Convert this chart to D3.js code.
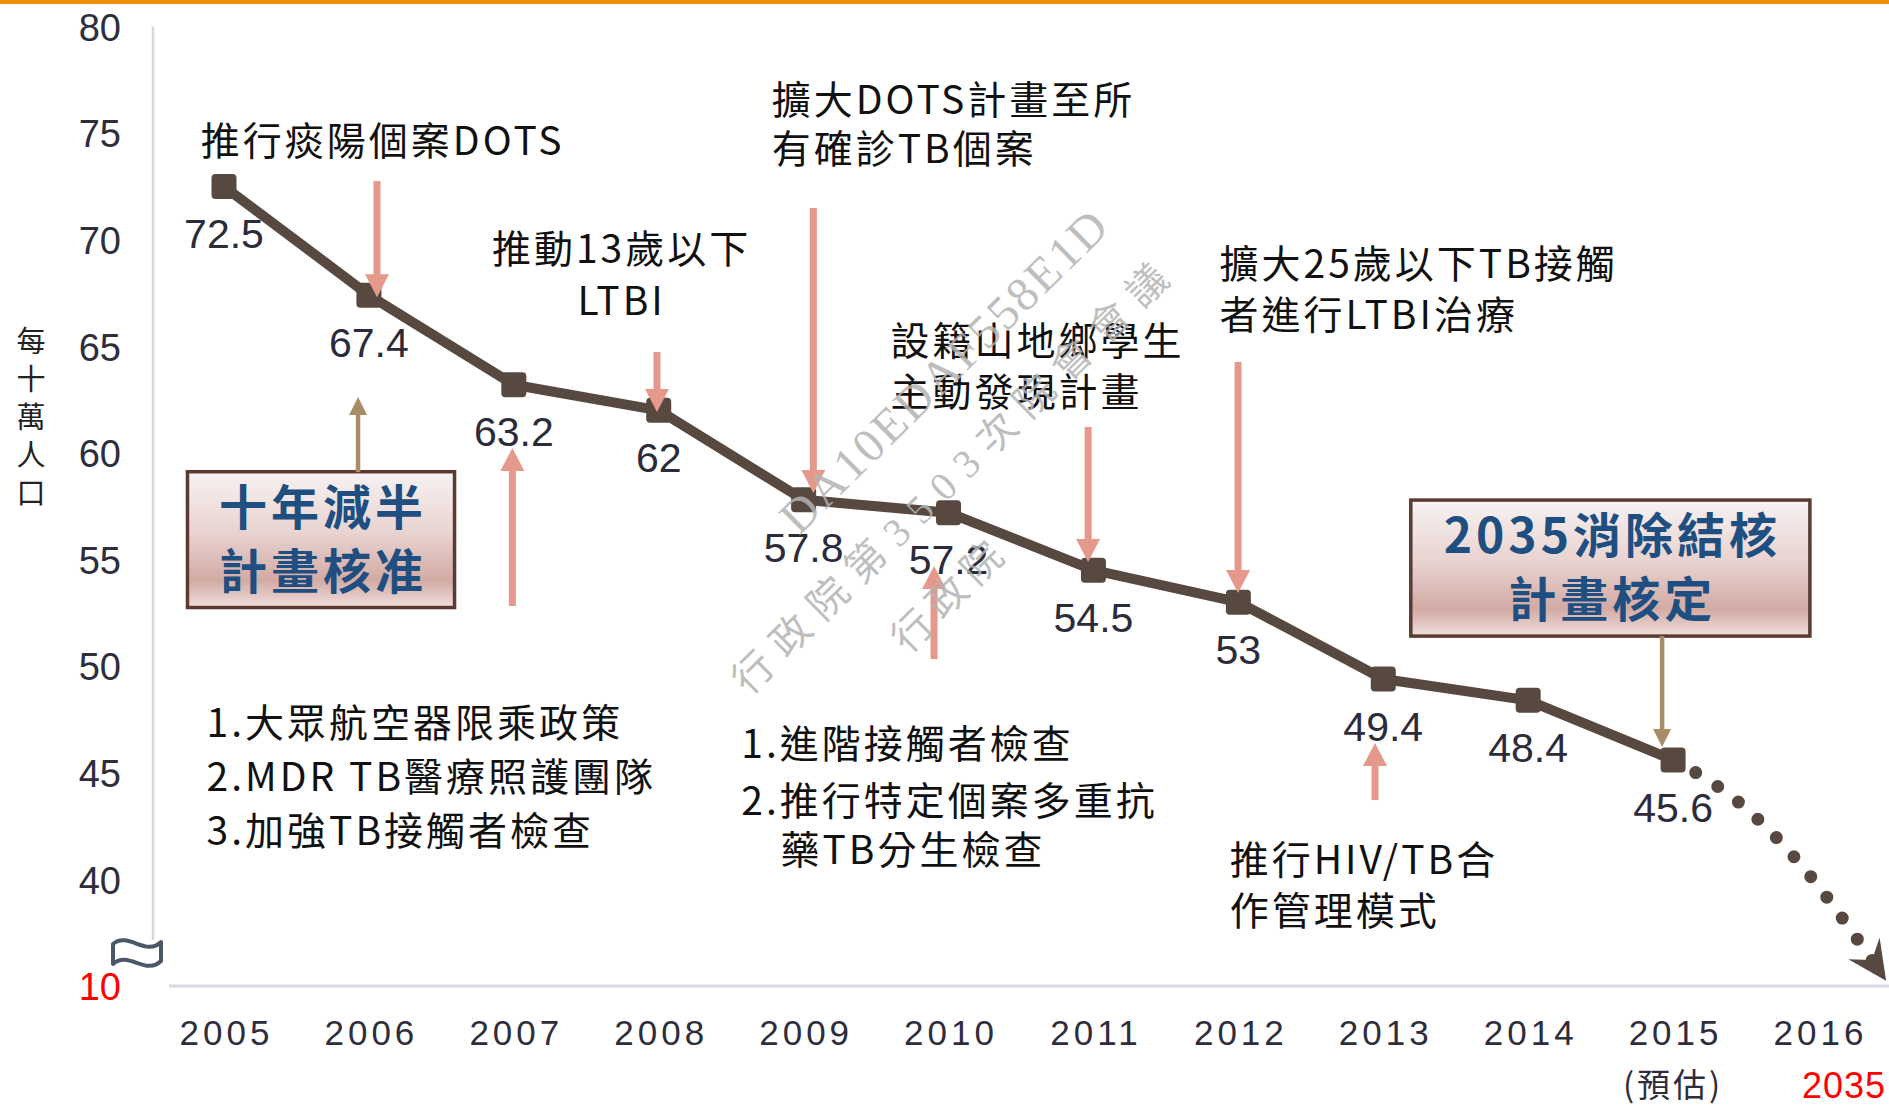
<!DOCTYPE html>
<html>
<head>
<meta charset="utf-8">
<script src="https://cdn.jsdelivr.net/npm/d3@7"></script>
<style>
  body { margin: 0; background: #fff; }
  svg { display: block; }
  text { font-family: "Liberation Sans", Arial, sans-serif; }
  .cjk { font-family: "Noto Sans CJK TC", "Noto Sans CJK SC", sans-serif; }
</style>
</head>
<body>
<div id="chart"></div>
<script>
// ---- data ----
var years = [2005, 2006, 2007, 2008, 2009, 2010, 2011, 2012, 2013, 2014, 2015];
var rates = [72.5, 67.4, 63.2, 62, 57.8, 57.2, 54.5, 53, 49.4, 48.4, 45.6];
var xTickYears = [2005, 2006, 2007, 2008, 2009, 2010, 2011, 2012, 2013, 2014, 2015, 2016];
var yTicks = [40, 45, 50, 55, 60, 65, 70, 75, 80];
var breakTick = 35;          // axis break, drawn as "10"
var breakLabel = "10";
var projYears = [2015, 2015.43, 2015.94, 2016.47];   // dotted projection toward 2035
var projRates = [45.6, 43.74, 40.21, 35.25];
var subLabelYears = [2015, 2016];
var subLabels = ["(預估)", "2035"];
var yTitle = "每十萬人口";

var width = 1889, height = 1107;

var x = d3.scaleLinear().domain([2005, 2016]).range([224, 1818]);
var y = d3.scaleLinear().domain([breakTick, 80]).range([986, 26.5]);

var svg = d3.select("#chart").append("svg")
    .attr("width", width)
    .attr("height", height);

var defs = svg.append("defs");

var grad = defs.append("linearGradient")
    .attr("id", "boxFill")
    .attr("x1", 0).attr("y1", 0).attr("x2", 0).attr("y2", 1);
grad.append("stop").attr("offset", "0%").attr("stop-color", "#f7f2f2");
grad.append("stop").attr("offset", "45%").attr("stop-color", "#e8d3d0");
grad.append("stop").attr("offset", "80%").attr("stop-color", "#d3aaa4");
grad.append("stop").attr("offset", "100%").attr("stop-color", "#efdfdc");

// top orange rule
svg.append("rect")
    .attr("x", 0).attr("y", 0)
    .attr("width", width).attr("height", 4)
    .attr("fill", "#ef8f0b");

// axis lines
svg.append("line")
    .attr("x1", 153).attr("x2", 153)
    .attr("y1", y(80)).attr("y2", y(breakTick) - 46)
    .attr("stroke", "#d8d8e3").attr("stroke-width", 2.5);

svg.append("line")
    .attr("x1", 169).attr("x2", width)
    .attr("y1", y(breakTick)).attr("y2", y(breakTick))
    .attr("stroke", "#d9d9e1").attr("stroke-width", 3);

// break symbol
var by = y(breakTick) - 43;
svg.append("path")
    .attr("d", "M113," + (by + 1) + " C128," + (by - 12) + " 146," + (by + 14) + " 161," + (by - 1) +
               " L161," + (by + 18) + " C146," + (by + 33) + " 128," + (by + 7) + " 113," + (by + 21) + " Z")
    .attr("fill", "#fff")
    .attr("stroke", "#4b5767")
    .attr("stroke-width", 4)
    .attr("stroke-linejoin", "round");

// y axis
function customYAxis(g) {
    g.call(d3.axisLeft(y)
        .tickValues(yTicks.concat([breakTick]))
        .tickSize(0)
        .tickPadding(0)
        .tickFormat(function(d) { return d === breakTick ? breakLabel : d; }));
    g.select(".domain").remove();
    g.selectAll(".tick text")
        .attr("dy", "0.36em")
        .style("font-size", "38px")
        .style("font-family", "'Liberation Sans', Arial, sans-serif")
        .attr("fill", function(d) { return d === breakTick ? "#ff0000" : "#2d2d3c"; });
}
svg.append("g")
    .attr("transform", "translate(121,0)")
    .call(customYAxis);

// x axis
function customXAxis(g) {
    g.call(d3.axisBottom(x)
        .tickValues(xTickYears)
        .tickSize(0)
        .tickPadding(0)
        .tickFormat(d3.format("d")));
    g.select(".domain").remove();
    g.selectAll(".tick text")
        .attr("y", 0)
        .attr("dy", "0.36em")
        .attr("dx", 2)
        .style("font-size", "35px")
        .style("letter-spacing", "4px")
        .style("font-family", "'Liberation Sans', Arial, sans-serif")
        .attr("fill", "#2d2d3c");
}
svg.append("g")
    .attr("transform", "translate(0,1032)")
    .call(customXAxis);

svg.selectAll(".sublabel")
    .data(subLabels)
    .enter().append("text")
    .attr("class", function(d, i) { return i === 0 ? "sublabel cjk" : "sublabel"; })
    .attr("x", function(d, i) { return x(subLabelYears[i]) + (i === 1 ? 26 : 0); })
    .attr("y", 1085)
    .attr("dy", "0.36em")
    .attr("text-anchor", "middle")
    .style("font-size", function(d, i) { return i === 0 ? "33px" : "36px"; })
    .style("letter-spacing", function(d, i) { return i === 0 ? "3px" : "1px"; })
    .attr("fill", function(d, i) { return i === 0 ? "#2d2d3c" : "#ff0000"; })
    .text(function(d) { return d; });

// y axis title, stacked characters
svg.selectAll(".ytitle")
    .data(yTitle.split(""))
    .enter().append("text")
    .attr("class", "ytitle cjk")
    .attr("x", 31)
    .attr("y", function(d, i) { return 342 + i * 38; })
    .attr("dy", "0.36em")
    .attr("text-anchor", "middle")
    .style("font-size", "29px")
    .attr("fill", "#222")
    .text(function(d) { return d; });

// ---- annotation text ----
var notes = [
    { year: 2004.84, value: 74.63, anchor: "start", gap: 0, lines: ["推行痰陽個案DOTS"] },
    { year: 2007.73, value: 69.57, anchor: "middle", gap: 52, lines: ["推動13歲以下", "LTBI"] },
    { year: 2008.78, value: 76.55, anchor: "start", gap: 49, lines: ["擴大DOTS計畫至所", "有確診TB個案"] },
    { year: 2009.6, value: 65.25, anchor: "start", gap: 51, lines: ["設籍山地鄉學生", "主動發現計畫"] },
    { year: 2011.87, value: 68.86, anchor: "start", gap: 51, lines: ["擴大25歲以下TB接觸", "者進行LTBI治療"] },
    { year: 2004.88, value: 47.33, anchor: "start", gap: 54, lines: ["1.大眾航空器限乘政策", "2.MDR TB醫療照護團隊", "3.加強TB接觸者檢查"] },
    { year: 2008.57, value: 46.35, anchor: "start", gap: 57, lines: ["1.進階接觸者檢查", "2.推行特定個案多重抗"] },
    { year: 2008.84, value: 41.38, anchor: "start", gap: 0, lines: ["藥TB分生檢查"] },
    { year: 2011.94, value: 40.91, anchor: "start", gap: 51, lines: ["推行HIV/TB合", "作管理模式"] }
];

notes.forEach(function(n) {
    var t = svg.append("text")
        .attr("class", "cjk")
        .attr("text-anchor", n.anchor)
        .style("font-size", "39px")
        .style("letter-spacing", "3px")
        .attr("fill", "#111");
    n.lines.forEach(function(line, i) {
        t.append("tspan")
            .attr("x", x(n.year) + (n.anchor === "middle" ? 2 : 0))
            .attr("y", y(n.value) + i * n.gap)
            .attr("dy", "0.36em")
            .text(line);
    });
});

// ---- boxes ----
var boxes = [
    { x0: 2004.748, x1: 2006.591, top: 59.12, bottom: 52.75, lines: ["十年減半", "計畫核准"] },
    { x0: 2013.19, x1: 2015.944, top: 57.79, bottom: 51.41, lines: ["2035消除結核", "計畫核定"] }
];

boxes.forEach(function(b) {
    var bx = x(b.x0), bw = x(b.x1) - x(b.x0);
    var byTop = y(b.top), bh = y(b.bottom) - y(b.top);
    svg.append("rect")
        .attr("x", bx).attr("y", byTop)
        .attr("width", bw).attr("height", bh)
        .attr("fill", "url(#boxFill)")
        .attr("stroke", "#5b3a32")
        .attr("stroke-width", 3.5);
    b.lines.forEach(function(line, i) {
        svg.append("text")
            .attr("class", "cjk")
            .attr("x", bx + bw / 2 + 2)
            .attr("y", byTop + bh / 2 + (i === 0 ? -32 : 32))
            .attr("dy", "0.36em")
            .attr("text-anchor", "middle")
            .style("font-size", "48px")
            .style("font-weight", 700)
            .style("letter-spacing", "4px")
            .attr("fill", "#1f4e80")
            .text(line);
    });
});

// ---- series line ----
var series = years.map(function(yr, i) { return { year: yr, rate: rates[i] }; });

var line = d3.line()
    .x(function(d) { return x(d.year); })
    .y(function(d) { return y(d.rate); });

var projection = projYears.map(function(yr, i) { return { year: yr, rate: projRates[i] }; });

var projPath = svg.append("path")
    .datum(projection)
    .attr("fill", "none")
    .attr("stroke", "#574840")
    .attr("stroke-width", 13)
    .attr("stroke-linecap", "round")
    .attr("stroke-dasharray", "0 26")
    .attr("d", line.curve(d3.curveNatural));

// arrow head at the end of the projection
var pn = projPath.node();
var total = pn.getTotalLength();
var tip = pn.getPointAtLength(total);
var back = pn.getPointAtLength(total - 10);
var ang = Math.atan2(tip.y - back.y, tip.x - back.x) * 180 / Math.PI;
svg.append("path")
    .attr("d", "M0,0 L-39,-19 L-25,0 L-39,19 Z")
    .attr("transform", "translate(" + tip.x + "," + tip.y + ") rotate(" + ang + ")")
    .attr("fill", "#574840");

line.curve(d3.curveLinear);

svg.append("path")
    .datum(series)
    .attr("fill", "none")
    .attr("stroke", "#574840")
    .attr("stroke-width", 10)
    .attr("stroke-linejoin", "round")
    .attr("d", line);

svg.selectAll(".dot")
    .data(series)
    .enter().append("rect")
    .attr("class", "dot")
    .attr("x", function(d) { return x(d.year) - 12.5; })
    .attr("y", function(d) { return y(d.rate) - 12.5; })
    .attr("width", 25).attr("height", 25)
    .attr("rx", 4)
    .attr("fill", "#574840");

svg.selectAll(".val")
    .data(series)
    .enter().append("text")
    .attr("class", "val")
    .attr("x", function(d) { return x(d.year); })
    .attr("y", function(d) { return y(d.rate) + 47; })
    .attr("dy", "0.36em")
    .attr("text-anchor", "middle")
    .style("font-size", "41px")
    .attr("fill", "#2b2b3a")
    .text(function(d) { return d.rate; });

// ---- arrows ----
var arrows = [
    { year: 2006.056, from: 72.75, to: 67.3, kind: "pink" },
    { year: 2006.99, from: 52.82, to: 60.23, kind: "pink" },
    { year: 2007.988, from: 64.73, to: 61.92, kind: "pink" },
    { year: 2009.067, from: 71.49, to: 58.12, kind: "pink" },
    { year: 2009.9, from: 50.33, to: 54.7, kind: "pink" },
    { year: 2010.963, from: 61.22, to: 54.89, kind: "pink" },
    { year: 2011.998, from: 64.27, to: 53.43, kind: "pink" },
    { year: 2012.943, from: 43.72, to: 46.4, kind: "pink" },
    { year: 2005.925, from: 59.1, to: 62.62, kind: "tan" },
    { year: 2014.924, from: 51.41, to: 46.21, kind: "tan" }
];
var arrowStyle = {
    pink: { color: "#e5998c", w: 7, len: 23, half: 12 },
    tan: { color: "#a88d68", w: 4.5, len: 18, half: 9 }
};

arrows.forEach(function(a) {
    var s = arrowStyle[a.kind];
    var ax = x(a.year), y1 = y(a.from), y2 = y(a.to);
    var dir = y2 > y1 ? 1 : -1;
    var base = y2 - dir * s.len;
    svg.append("line")
        .attr("x1", ax).attr("x2", ax)
        .attr("y1", y1).attr("y2", base + dir)
        .attr("stroke", s.color)
        .attr("stroke-width", s.w);
    svg.append("path")
        .attr("d", "M" + ax + "," + y2 + " L" + (ax - s.half) + "," + base + " L" + (ax + s.half) + "," + base + " Z")
        .attr("fill", s.color);
});

// ---- watermark ----
var marks = [
    { cx: 943, cy: 371, text: "DA10EDAF558E1D", len: 437, size: 48 },
    { cx: 950, cy: 479, text: "行政院第3503次院會會議", len: 592, size: 40 },
    { cx: 947, cy: 597, text: "行政院", len: 137, size: 40 }
];
marks.forEach(function(m) {
    svg.append("text")
        .attr("transform", "translate(" + m.cx + "," + m.cy + ") rotate(-44.5)")
        .attr("text-anchor", "middle")
        .attr("dy", "0.35em")
        .attr("textLength", m.len)
        .attr("lengthAdjust", "spacing")
        .style("font-family", "'Liberation Serif', 'DejaVu Serif', 'Noto Sans CJK TC', serif")
        .style("font-size", m.size + "px")
        .attr("fill", "#b3b3b3")
        .attr("fill-opacity", 0.85)
        .text(m.text);
});
</script>
</body>
</html>
